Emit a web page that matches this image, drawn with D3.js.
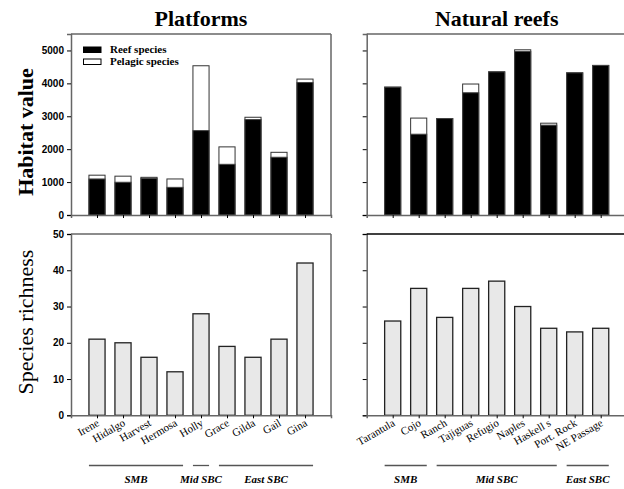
<!DOCTYPE html>
<html>
<head>
<meta charset="utf-8">
<script src="https://cdn.jsdelivr.net/npm/d3@7"></script>
<style>
  body { margin: 0; background: #fff; }
  svg { display: block; }
</style>
</head>
<body>
<svg width="624" height="489"></svg>
<script>

// platforms
var platNames = ['Irene', 'Hidalgo', 'Harvest', 'Hermosa', 'Holly', 'Grace', 'Gilda', 'Gail', 'Gina'];
var platReef = [1095, 995, 1115, 840, 2565, 1540, 2900, 1755, 4025];
var platTotal = [1210, 1180, 1145, 1095, 4535, 2070, 2970, 1905, 4130];
var platRich = [21, 20, 16, 12, 28, 19, 16, 21, 42];
var platGroups = [['SMB', 0, 3], ['Mid SBC', 4, 4], ['East SBC', 5, 8]];

// natural reefs
var reefNames = ['Tarantula', 'Cojo', 'Ranch', 'Tajiguas', 'Refugio', 'Naples', 'Haskell s', 'Port. Rock', 'NE Passage'];
var reefReef = [3885, 2455, 2930, 3715, 4350, 4970, 2730, 4320, 4545];
var reefTotal = [3885, 2945, 2930, 3980, 4350, 5020, 2790, 4320, 4545];
var reefRich = [26, 35, 27, 35, 37, 30, 24, 23, 24];
var reefGroups = [['SMB', 0, 1], ['Mid SBC', 2, 6], ['East SBC', 7, 8]];

var hvTicks = [0, 1000, 2000, 3000, 4000, 5000];
var srTicks = [0, 10, 20, 30, 40, 50];

var svg = d3.select('svg');
var serif = 'Liberation Serif, Times New Roman, serif';
var sans = 'Liberation Sans, Arial, sans-serif';
var frame = '#666';
var bw = 0.62; // bar width in x units

var yTop = d3.scaleLinear().domain([0, 5500]).range([215, 34]);
var yBot = d3.scaleLinear().domain([0, 50]).range([415.3, 234]);
var xLeft = d3.scaleLinear().domain([0, 10]).range([71, 331]);
var xRight = d3.scaleLinear().domain([0, 10]).range([366.7, 626.7]);

function axes(x, y, ticks, showLabels, boxed, topColor) {
   var g = svg.append('g');
   var yAxis = d3.axisLeft(y).tickValues(ticks).tickSize(4).tickPadding(3)
                 .tickFormat(showLabels ? d3.format('d') : '');
   var ax = g.append('g').attr('transform', 'translate(' + x.range()[0] + ',0)').call(yAxis);
   ax.select('.domain').attr('stroke', frame).attr('stroke-width', 1.5);
   ax.selectAll('.tick line').attr('stroke', '#000');
   ax.selectAll('.tick text').attr('fill', '#000')
     .style('font-family', sans).style('font-weight', 'bold').style('font-size', '10px');

   var xAxis = d3.axisBottom(x).tickValues(d3.range(1, 10)).tickSize(3).tickFormat('');
   var bx = g.append('g').attr('transform', 'translate(0,' + y.range()[0] + ')').call(xAxis);
   bx.select('.domain').attr('stroke', frame).attr('stroke-width', 1.5);
   bx.selectAll('.tick line').attr('stroke', '#000');

   g.append('line')
      .attr('x1', x.range()[0]).attr('x2', x.range()[1])
      .attr('y1', y.range()[1]).attr('y2', y.range()[1])
      .attr('stroke', topColor || frame).attr('stroke-width', 1.5);
   if (boxed) {
      g.append('line')
         .attr('x1', x.range()[1]).attr('x2', x.range()[1])
         .attr('y1', y.range()[0]).attr('y2', y.range()[1])
         .attr('stroke', frame).attr('stroke-width', 1.5);
   }
}

function stackBars(x, reef, total) {
   var g = svg.append('g');
   // pelagic on top (white), reef below (black)
   g.selectAll('rect.pel').data(total).enter().append('rect')
      .attr('x', function(d, i){ return x(i + 1 - bw / 2); })
      .attr('width', x(bw) - x(0))
      .attr('y', function(d){ return yTop(d); })
      .attr('height', function(d){ return yTop(0) - yTop(d); })
      .attr('fill', '#fff').attr('stroke', '#333').attr('stroke-width', 1);
   g.selectAll('rect.reef').data(reef).enter().append('rect')
      .attr('x', function(d, i){ return x(i + 1 - bw / 2); })
      .attr('width', x(bw) - x(0))
      .attr('y', function(d){ return yTop(d); })
      .attr('height', function(d){ return yTop(0) - yTop(d); })
      .attr('fill', '#000').attr('stroke', '#444').attr('stroke-width', 1);
}

function richBars(x, vals) {
   svg.append('g').selectAll('rect').data(vals).enter().append('rect')
      .attr('x', function(d, i){ return x(i + 1 - bw / 2); })
      .attr('width', x(bw) - x(0))
      .attr('y', function(d){ return yBot(d); })
      .attr('height', function(d){ return yBot(0) - yBot(d); })
      .attr('fill', '#e8e8e8').attr('stroke', '#222').attr('stroke-width', 1.3);
}

function names(x, list) {
   svg.append('g').selectAll('text').data(list).enter().append('text')
      .attr('transform', function(d, i){ return 'translate(' + (x(i + 1) + 3) + ',425) rotate(-30)'; })
      .attr('text-anchor', 'end')
      .style('font-family', serif).style('font-size', '11px')
      .text(function(d){ return d; });
}

function groups(x, list) {
   var g = svg.append('g');
   list.forEach(function(gr) {
      var x1 = x(gr[1] + 1 - bw / 2), x2 = x(gr[2] + 1 + bw / 2);
      g.append('line').attr('x1', x1).attr('x2', x2).attr('y1', 465.5).attr('y2', 465.5)
         .attr('stroke', '#555').attr('stroke-width', 1.3);
      g.append('text').attr('x', (x1 + x2) / 2).attr('y', 483).attr('text-anchor', 'middle')
         .style('font-family', serif).style('font-weight', 'bold').style('font-style', 'italic')
         .style('font-size', '11px').text(gr[0]);
   });
}

stackBars(xLeft, platReef, platTotal);
stackBars(xRight, reefReef, reefTotal);
richBars(xLeft, platRich);
richBars(xRight, reefRich);

axes(xLeft, yTop, hvTicks, true, true);
axes(xRight, yTop, hvTicks, false, false);
axes(xLeft, yBot, srTicks, true, true);
axes(xRight, yBot, srTicks, false, false, '#000');

names(xLeft, platNames);
names(xRight, reefNames);
groups(xLeft, platGroups);
groups(xRight, reefGroups);

// legend
var legend = [['Reef species', '#000'], ['Pelagic species', '#fff']];
var lg = svg.append('g').selectAll('g').data(legend).enter().append('g')
   .attr('transform', function(d, i){ return 'translate(83.5,' + (47 + i * 12) + ')'; });
lg.append('rect').attr('width', 17.5).attr('height', 5.5)
   .attr('fill', function(d){ return d[1]; }).attr('stroke', '#000').attr('stroke-width', 1);
lg.append('text').attr('x', 26.5).attr('y', 5.5)
   .style('font-family', serif).style('font-weight', 'bold').style('font-size', '11px')
   .text(function(d){ return d[0]; });

// titles
svg.append('text').attr('x', 201).attr('y', 26).attr('text-anchor', 'middle')
   .style('font-family', serif).style('font-weight', 'bold').style('font-size', '22px').text('Platforms');
svg.append('text').attr('x', 496.7).attr('y', 26).attr('text-anchor', 'middle')
   .style('font-family', serif).style('font-weight', 'bold').style('font-size', '22px').text('Natural reefs');

svg.append('text').attr('transform', 'translate(33,132) rotate(-90)').attr('text-anchor', 'middle')
   .style('font-family', serif).style('font-weight', 'bold').style('font-size', '22px').text('Habitat value');
svg.append('text').attr('transform', 'translate(33,322) rotate(-90)').attr('text-anchor', 'middle')
   .style('font-family', serif).style('font-size', '22px').text('Species richness');

</script>
</body>
</html>
